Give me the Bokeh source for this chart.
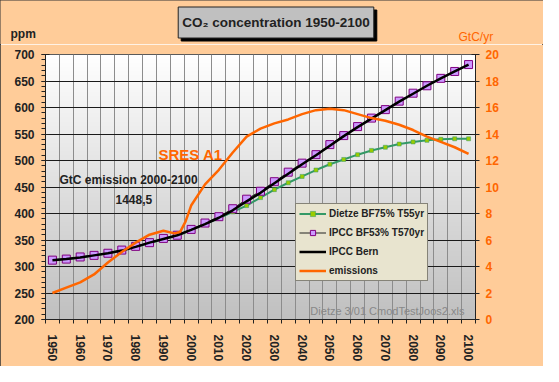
import numpy as np
from bokeh.plotting import figure
from bokeh.layouts import column
from bokeh.models import Range1d, LinearAxis, FixedTicker, Label, Legend, LegendItem
from bokeh.embed import file_html
from bokeh.resources import INLINE

# ---------------- data ----------------
years = list(range(1950, 2101, 5))
dietze = [312, 314, 317, 321, 325, 330, 337, 344, 352, 358, 369, 380, 391, 403, 415,
          430, 445, 458, 470, 482, 493, 502, 511, 519, 525, 531, 535, 538, 540, 541, 541]
ipcc_bf53 = [312, 314, 318, 321, 325, 331, 338, 345, 353, 359, 370, 382, 394, 409, 427,
             442, 460, 478, 495, 511, 530, 547, 564, 580, 596, 612, 627, 641, 655, 668, 681]
ipcc_bern = [312, 314, 317, 321, 325, 330, 337, 345, 352, 359, 369, 380, 392, 406, 423,
             439, 457, 475, 493, 510, 528, 546, 563, 579, 595, 611, 626, 641, 655, 668, 681]
emis_years = [1950, 1955, 1960, 1965, 1970, 1975, 1980, 1985, 1990, 1994, 1996, 1998,
              2000, 2005, 2010, 2015, 2020, 2025, 2030, 2035, 2040, 2045, 2050, 2055,
              2060, 2065, 2070, 2075, 2080, 2085, 2090, 2095, 2100]
emissions = [2.0, 2.4, 2.8, 3.4, 4.3, 5.1, 5.8, 6.4, 6.7, 6.5, 6.6, 7.4,
             8.6, 10.2, 11.3, 12.6, 13.8, 14.4, 14.8, 15.1, 15.5, 15.8, 15.9, 15.8,
             15.5, 15.2, 15.0, 14.7, 14.3, 13.8, 13.4, 13.0, 12.5]
left_ticks = list(range(200, 701, 50))
left_minor = list(range(200, 701, 10))
right_ticks = list(range(0, 21, 2))
label_years = list(range(1950, 2101, 10))
boundaries = [y - 2.5 for y in years] + [2102.5]

FONT = "Liberation Sans"
ORANGE = "#FF6600"
DARK = "#222222"
PEACH = "#FFCC99"
W = 543
HEAD_H = 44

# ---------------- header strip (title box, unit labels) ----------------
h = figure(width=W, height=HEAD_H, x_range=Range1d(0, W), y_range=Range1d(0, HEAD_H),
           x_axis_type=None, y_axis_type=None, output_backend="svg", toolbar_location=None,
           min_border=0)
h.frame_align = False
h.border_fill_color = PEACH
h.background_fill_color = PEACH
h.outline_line_color = None
h.grid.visible = False


def hlab(text, x, y, **kw):
    opts = dict(x=x, y=y, text=text, text_font=FONT, text_font_size="12px",
                text_font_style="bold", text_color=DARK, text_baseline="alphabetic")
    opts.update(kw)
    h.add_layout(Label(**opts))


title = "CO\u2082 concentration 1950-2100"
pad = dict(left=4, right=4, top=8, bottom=8)
hlab(title, 278.5, 19, text_font_size="13.5px", text_align="center", text_baseline="middle",
     text_color="black", background_fill_color="black", border_line_color="black", padding=pad)
hlab(title, 275.5, 22, text_font_size="13.5px", text_align="center", text_baseline="middle",
     text_color=DARK, background_fill_color="#C0C0C0", border_line_color=DARK, padding=pad)
hlab("ppm", 10, 10.5)
hlab("GtC/yr", 458, 8, text_color=ORANGE, text_font_style="normal")

# ---------------- main chart ----------------
p = figure(frame_width=430, frame_height=265,
           x_range=Range1d(1947.5, 2102.5), y_range=Range1d(200, 700),
           output_backend="svg", toolbar_location=None,
           min_border_left=45, min_border_right=68, min_border_top=10, min_border_bottom=47)
p.frame_align = False
p.extra_y_ranges = {"emis": Range1d(0, 20)}
p.border_fill_color = PEACH
p.background_fill_color = "#FFFFFF"
p.outline_line_color = DARK

# gradient background (white at top -> silver at bottom)
n = 265
g = np.linspace(192, 255, n).astype(np.uint8)
img = np.zeros((n, 1), dtype=np.uint32)
view = img.view(dtype=np.uint8).reshape((n, 1, 4))
view[:, 0, 0] = g
view[:, 0, 1] = g
view[:, 0, 2] = g
view[:, 0, 3] = 255
p.image_rgba(image=[img], x=1947.5, y=200, dw=155, dh=500, level="image")

# grids
p.xgrid.ticker = FixedTicker(ticks=boundaries[1:-1])
p.xgrid.grid_line_color = "#8C8C8C"
p.xgrid.grid_line_width = 1
p.ygrid.ticker = FixedTicker(ticks=left_ticks)
p.ygrid.grid_line_color = "#1A1A1A"
p.ygrid.grid_line_width = 1

# left axis
ya = p.yaxis[0]
ya.ticker = FixedTicker(ticks=left_ticks, minor_ticks=left_minor)
ya.major_label_text_font = FONT
ya.major_label_text_font_style = "bold"
ya.major_label_text_font_size = "12px"
ya.major_label_text_color = DARK
ya.axis_line_color = DARK
ya.major_tick_line_color = DARK
ya.minor_tick_line_color = DARK
ya.major_tick_in = 4
ya.major_tick_out = 4
ya.minor_tick_in = 0
ya.minor_tick_out = 4
ya.major_label_standoff = 7

# right axis
ra = LinearAxis(y_range_name="emis", ticker=FixedTicker(ticks=right_ticks, minor_ticks=[]))
ra.major_label_text_font = FONT
ra.major_label_text_font_style = "bold"
ra.major_label_text_font_size = "12px"
ra.major_label_text_color = ORANGE
ra.axis_line_color = DARK
ra.major_tick_line_color = DARK
ra.major_tick_in = 4
ra.major_tick_out = 4
ra.minor_tick_line_color = None
ra.major_label_standoff = 6
p.add_layout(ra, "right")

# bottom axis
xa = p.xaxis[0]
xa.ticker = FixedTicker(ticks=label_years, minor_ticks=boundaries)
xa.major_label_orientation = "vertical"
xa.major_label_text_font = FONT
xa.major_label_text_font_style = "bold"
xa.major_label_text_font_size = "12px"
xa.major_label_text_color = DARK
xa.axis_line_color = DARK
xa.major_tick_in = 0
xa.major_tick_out = 0
xa.minor_tick_in = 0
xa.minor_tick_out = 4
xa.minor_tick_line_color = DARK
xa.major_label_standoff = 11

# series
g_line = p.line(years, dietze, line_color="#339966", line_width=2)
g_pts = p.scatter(years, dietze, marker="square", size=4, fill_color="#99CC00",
                  line_color="#339966", line_width=0.5)
i_line = p.line(years, ipcc_bf53, line_color=DARK, line_width=1)
i_pts = p.scatter(years, ipcc_bf53, marker="square", size=8, fill_color="#CC99FF",
                  line_color="#800080", line_width=1)
b_line = p.line(years, ipcc_bern, line_color="#000000", line_width=2.5)
e_line = p.line(emis_years, emissions, line_color=ORANGE, line_width=2.5, y_range_name="emis")

legend = Legend(items=[
    LegendItem(label="Dietze BF75% T55yr", renderers=[g_line, g_pts]),
    LegendItem(label="IPCC BF53% T570yr", renderers=[i_line, i_pts]),
    LegendItem(label="IPCC Bern", renderers=[b_line]),
    LegendItem(label="emissions", renderers=[e_line]),
], location=(250, 38))
legend.label_text_font = FONT
legend.label_text_font_style = "bold"
legend.label_text_font_size = "10px"
legend.label_text_color = DARK
legend.background_fill_color = "#E8E4CF"
legend.background_fill_alpha = 1
legend.border_line_color = DARK
legend.border_line_width = 1
legend.padding = 3
legend.margin = 0
legend.spacing = 6
legend.glyph_width = 27
legend.glyph_height = 13
legend.label_height = 13
legend.label_standoff = 3
p.add_layout(legend, "center")


def lab(text, x, y, **kw):
    opts = dict(x=x, y=y, x_units="screen", y_units="screen", text=text,
                text_font=FONT, text_font_size="12px", text_font_style="bold",
                text_color=DARK, text_baseline="alphabetic")
    opts.update(kw)
    p.add_layout(Label(**opts), "center")


lab("SRES A1", 113, 165, text_color=ORANGE, text_font_size="15px")
lab("GtC emission 2000-2100", 14, 140)
lab("1448,5", 70, 120)
lab("Dietze 3/01  CmodTestJoos2.xls", 422, 9, text_align="right", text_color="#888888",
    text_font_style="normal", text_font_size="11px")

layout = column(h, p, spacing=0)
layout.styles = {"outline": "1px solid #333333", "outline-offset": "-1px"}

open("out.html", "w").write(file_html(layout, INLINE))
